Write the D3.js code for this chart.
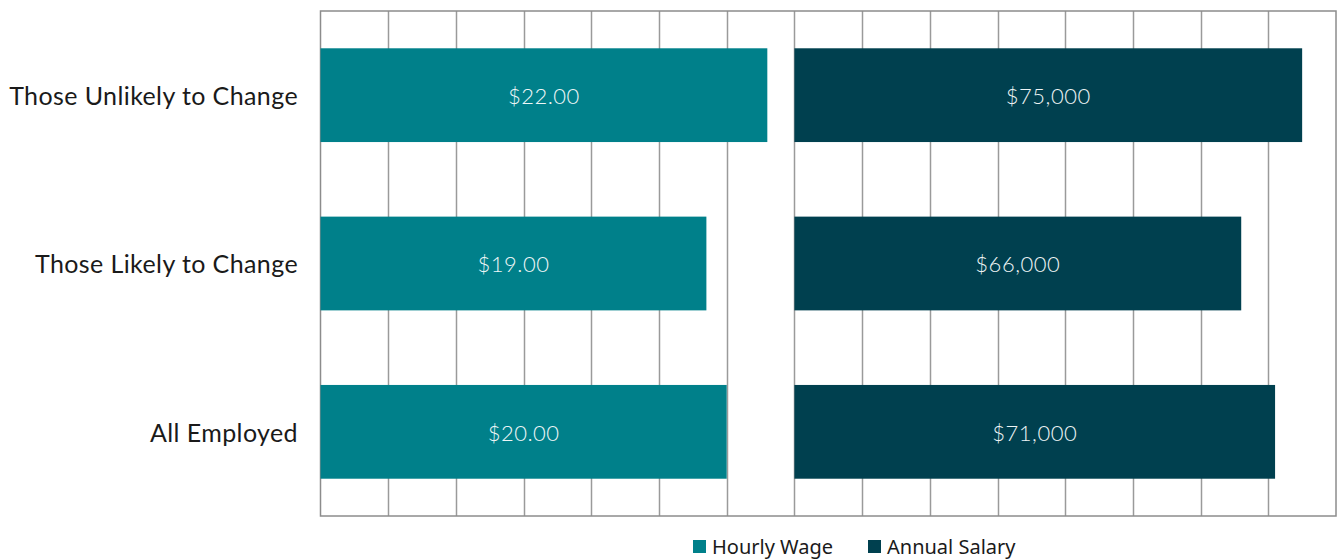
<!DOCTYPE html>
<html>
<head>
<meta charset="utf-8">
<script src="https://cdn.jsdelivr.net/npm/d3@7"></script>
<style>
  body { margin: 0; background: #fff; }
</style>
</head>
<body>
<div class="central"></div>
<script>
//Data
var categories = ["Those Unlikely to Change", "Those Likely to Change", "All Employed"];
var hourlyWage = [22, 19, 20];
var annualSalary = [75000, 66000, 71000];
var seriesNames = ["Hourly Wage", "Annual Salary"];
var seriesColors = ["#00808A", "#00404F"];

//Wage is drawn on the salary axis, scaled by 3000, salary starts at 70,000
var wageFactor = 3000,
	salaryOffset = 70000,
	axisMax = 150000,
	gridStep = 10000;

var width = 1337,
	height = 559;

var plotLeft = 320.5, plotRight = 1336, plotTop = 11, plotBottom = 516;

var svg = d3.select(".central")
			.append("svg")
			.attr("width", width)
			.attr("height", height);

var x = d3.scaleLinear()
			.domain([0, axisMax])
			.range([plotLeft, plotRight]);

var y = d3.scaleBand()
			.domain(categories)
			.range([plotTop, plotBottom])
			.paddingInner(0.443)
			.paddingOuter(0.2215);

//Vertical gridlines
svg.append("g")
	.selectAll("line")
	.data(d3.range(gridStep, axisMax, gridStep))
	.enter()
	.append("line")
	.attr("x1", function(d){ return Math.round(x(d)) + 0.5; })
	.attr("x2", function(d){ return Math.round(x(d)) + 0.5; })
	.attr("y1", plotTop)
	.attr("y2", plotBottom)
	.style("stroke", "#9a9a9a")
	.style("stroke-width", 1.5);

//Border box
svg.append("rect")
	.attr("x", plotLeft)
	.attr("y", plotTop)
	.attr("width", plotRight - plotLeft)
	.attr("height", plotBottom - plotTop)
	.style("fill", "none")
	.style("stroke", "#8c8c8c")
	.style("stroke-width", 1.5);

var rows = categories.map(function(c, i){
	return {cat: c, wage: hourlyWage[i], salary: annualSalary[i]};
});

//Wage bars
svg.selectAll(".wageBar")
	.data(rows)
	.enter()
	.append("rect")
	.attr("class", "wageBar")
	.attr("x", x(0))
	.attr("y", function(d){ return y(d.cat); })
	.attr("width", function(d){ return x(d.wage * wageFactor) - x(0); })
	.attr("height", y.bandwidth())
	.style("fill", seriesColors[0]);

//Salary bars
svg.selectAll(".salaryBar")
	.data(rows)
	.enter()
	.append("rect")
	.attr("class", "salaryBar")
	.attr("x", x(salaryOffset))
	.attr("y", function(d){ return y(d.cat); })
	.attr("width", function(d){ return x(salaryOffset + d.salary) - x(salaryOffset); })
	.attr("height", y.bandwidth())
	.style("fill", seriesColors[1]);

var wageFmt = d3.format("$.2f"),
	salaryFmt = d3.format("$,.0f");

//Bar labels
svg.selectAll(".wageLabel")
	.data(rows)
	.enter()
	.append("text")
	.attr("class", "wageLabel")
	.attr("x", function(d){ return (x(0) + x(d.wage * wageFactor)) / 2; })
	.attr("y", function(d){ return y(d.cat) + y.bandwidth() / 2 + 1; })
	.attr("dy", "0.35em")
	.attr("text-anchor", "middle")
	.style("font-family", "Lato, sans-serif")
	.style("font-weight", 300)
	.style("font-size", "22px")
	.style("letter-spacing", "0.5px")
	.style("fill", "#eef6f7")
	.text(function(d){ return wageFmt(d.wage); });

svg.selectAll(".salaryLabel")
	.data(rows)
	.enter()
	.append("text")
	.attr("class", "salaryLabel")
	.attr("x", function(d){ return (x(salaryOffset) + x(salaryOffset + d.salary)) / 2; })
	.attr("y", function(d){ return y(d.cat) + y.bandwidth() / 2 + 1; })
	.attr("dy", "0.35em")
	.attr("text-anchor", "middle")
	.style("font-family", "Lato, sans-serif")
	.style("font-weight", 300)
	.style("font-size", "22px")
	.style("letter-spacing", "0.5px")
	.style("fill", "#eef4f5")
	.text(function(d){ return salaryFmt(d.salary); });

//Category labels
svg.selectAll(".catLabel")
	.data(categories)
	.enter()
	.append("text")
	.attr("class", "catLabel")
	.attr("x", 298)
	.attr("y", function(d){ return y(d) + y.bandwidth() / 2 + 1; })
	.attr("dy", "0.35em")
	.attr("text-anchor", "end")
	.style("font-family", "Lato, sans-serif")
	.style("font-size", "25px")
	.style("letter-spacing", "0.4px")
	.style("fill", "#1a1a1a")
	.text(function(d){ return d; });

//Legend
var legend = svg.selectAll(".legendItem")
	.data(seriesNames)
	.enter()
	.append("g")
	.attr("class", "legendItem")
	.attr("transform", function(d, i){ return "translate(" + (693 + i * 175) + ",540)"; });

legend.append("rect")
	.attr("width", 13)
	.attr("height", 13)
	.style("fill", function(d, i){ return seriesColors[i]; });

legend.append("text")
	.attr("x", 19)
	.attr("y", 7)
	.attr("dy", "0.35em")
	.style("font-family", "'Noto Sans', sans-serif")
	.style("font-size", "20px")
	.style("fill", "#1a1a1a")
	.text(function(d){ return d; });
</script>
</body>
</html>
